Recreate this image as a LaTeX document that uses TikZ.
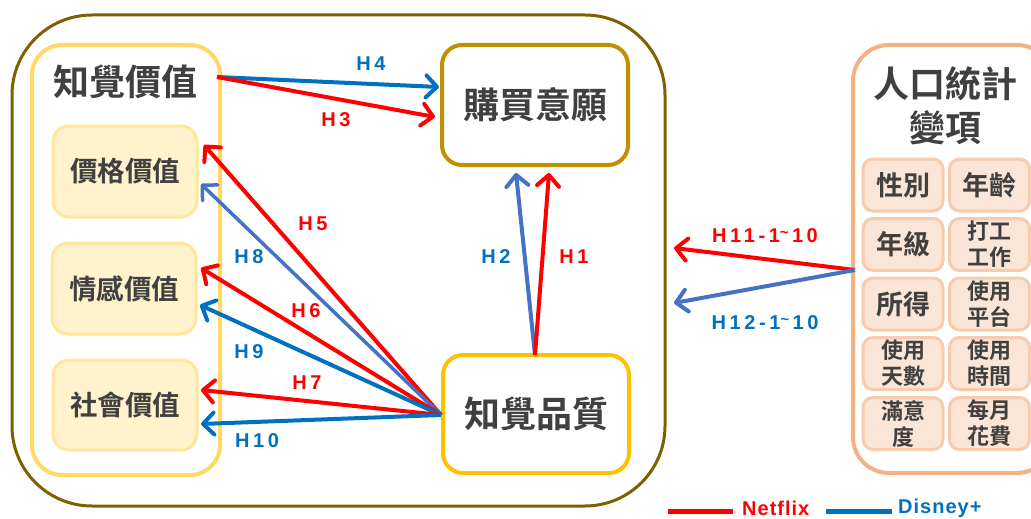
\documentclass[tikz,border=0pt]{standalone}
\usepackage{fontspec}
\usetikzlibrary{arrows.meta}
\newfontfamily\cjk{Noto Sans CJK TC Bold}
\newfontfamily\lab{Liberation Sans Bold}[LetterSpace=18]
\newfontfamily\labl{Liberation Sans Bold}[LetterSpace=5]
\definecolor{cBrown}{HTML}{7F6000}
\definecolor{cGold}{HTML}{BF9000}
\definecolor{cAmber}{HTML}{FFC000}
\definecolor{cYel}{HTML}{FFD966}
\definecolor{cYelL}{HTML}{FFE699}
\definecolor{cYelF}{HTML}{FFF2CC}
\definecolor{cOr}{HTML}{F4B183}
\definecolor{cOrL}{HTML}{F8CBAD}
\definecolor{cOrF}{HTML}{FBE5D6}
\definecolor{cTxt}{HTML}{404040}
\definecolor{cRed}{HTML}{FF0000}
\definecolor{cBlue}{HTML}{0070C0}
\definecolor{cBlueM}{HTML}{4472C4}
\tikzset{
  box/.style={rectangle, inner sep=0pt, text=cTxt},
  outerbox/.style={box, draw=cBrown, line width=3pt, rounded corners=80pt},
  pvbox/.style={box, draw=cYel, line width=4pt, rounded corners=30pt},
  subbox/.style={box, draw=cYelL, fill=cYelF, line width=3pt, rounded corners=16pt,
     minimum width=144pt, font=\cjk\fontsize{27.5}{30}\selectfont},
  bigbox/.style={box, line width=4pt, rounded corners=20pt, fill=white,
     minimum width=186pt, font=\cjk\fontsize{36}{40}\selectfont},
  demobox/.style={box, draw=cOr, line width=4pt, rounded corners=36pt},
  dsmall/.style={box, draw=cOrL, fill=cOrF, line width=3pt, rounded corners=10pt,
     minimum width=80pt, minimum height=52pt, align=center},
  one/.style={font=\cjk\fontsize{27}{30}\selectfont},
  two/.style={font=\cjk\fontsize{22}{26}\selectfont},
  title/.style={text=cTxt, font=\cjk\fontsize{36}{44}\selectfont, align=center, inner sep=0pt},
  arr/.style={line width=4pt, -{Straight Barb[round,length=11pt,width=22pt]}},
  hl/.style={font=\lab\fontsize{20}{22}\selectfont, inner sep=0pt},
  legtext/.style={font=\labl\fontsize{20}{22}\selectfont, inner sep=0pt, anchor=west},
}
\begin{document}
\begin{tikzpicture}[x=1pt,y=-1pt]
\useasboundingbox (0,0) rectangle (1031,519);
\begin{scope}
\clip (0,0) rectangle (1031,519);
% outer container
\node[outerbox, minimum width=653pt, minimum height=491pt] (outer) at (338.5,260.5) {};
% perceived value container
\node[pvbox, minimum width=188pt, minimum height=430pt] (pv) at (126,260) {};
\node[title] (pvt) at (125,82) {知覺價值};
\node[subbox, minimum height=91pt] (price) at (125,171.5) {價格價值};
\node[subbox, minimum height=91pt] (emo) at (124,288.5) {情感價值};
\node[subbox, minimum height=90pt] (soc) at (125,405) {社會價值};
% purchase intention and perceived quality
\node[bigbox, draw=cGold, minimum height=120pt] (pi) at (535,105) {購買意願};
\node[bigbox, draw=cAmber, minimum height=118pt] (pq) at (536,414) {知覺品質};
% demographics
\node[demobox, minimum width=200pt, minimum height=428pt] (demo) at (953,259) {};
\node[title] (demot) at (945,106) {人口統計\\變項};
\node[dsmall, one] (d1) at (903,185) {性別};
\node[dsmall, one] (d2) at (989.5,185) {年齡};
\node[dsmall, one] (d3) at (903,244.5) {年級};
\node[dsmall, two] (d4) at (989.5,244.5) {打工\\工作};
\node[dsmall, one] (d5) at (903,304) {所得};
\node[dsmall, two] (d6) at (989.5,304) {使用\\平台};
\node[dsmall, two] (d7) at (903,363.5) {使用\\天數};
\node[dsmall, two] (d8) at (989.5,363.5) {使用\\時間};
\node[dsmall, two] (d9) at (903,423.5) {滿意\\度};
\node[dsmall, two] (d10) at (989.5,423.5) {每月\\花費};
% connector points
\coordinate (s34) at (217,77);
\coordinate (t4) at (439,87);
\coordinate (t3) at (435,117);
\coordinate (sq) at (441,415);
\coordinate (t5) at (204,145);
\coordinate (t8) at (201,184);
\coordinate (t6) at (201,268);
\coordinate (t9) at (200,305);
\coordinate (t7) at (201,390);
\coordinate (t10) at (201,424);
\coordinate (s12) at (535,355);
\coordinate (t2) at (516,173);
\coordinate (t1) at (549,173);
\coordinate (sd) at (855,270);
\coordinate (t11) at (674,248);
\coordinate (t12) at (674,303);
% arrows
\draw[arr, cBlue] (s34) -- (t4);
\draw[arr, cRed] (s34) -- (t3);
\draw[arr, cRed] (sq) -- (t5);
\draw[arr, cBlueM, line width=3.5pt] (sq) -- (t8);
\draw[arr, cRed] (sq) -- (t6);
\draw[arr, cBlue] (sq) -- (t9);
\draw[arr, cRed] (sq) -- (t7);
\draw[arr, cBlue] (sq) -- (t10);
\draw[arr, cBlueM] (s12) -- (t2);
\draw[arr, cRed] (s12) -- (t1);
\draw[arr, cRed] (sd) -- (t11);
\draw[arr, cBlueM] (sd) -- (t12);
% labels
\node[hl, cBlue] (l4) at (371,64) {H4};
\node[hl, cRed] (l3) at (336,120) {H3};
\node[hl, cRed] (l5) at (313,224) {H5};
\node[hl, cBlue] (l8) at (249,257) {H8};
\node[hl, cRed] (l6) at (306,311) {H6};
\node[hl, cBlue] (l9) at (249,352) {H9};
\node[hl, cRed] (l7) at (307,383) {H7};
\node[hl, cBlue] (l10) at (257,441) {H10};
\node[hl, cBlue] (l2) at (496,257) {H2};
\node[hl, cRed] (l1) at (574,257) {H1};
\node[hl, cRed] (l11) at (765,236) {H11-1\raisebox{5pt}{\fontsize{15}{15}\selectfont\textasciitilde}\,10};
\node[hl, cBlue] (l12) at (765,323) {H12-1\raisebox{5pt}{\fontsize{15}{15}\selectfont\textasciitilde}\,10};
% legend
\coordinate (la) at (668,511);
\coordinate (lb) at (733,511);
\coordinate (lc) at (826,511);
\coordinate (ld) at (892,511);
\draw[cRed, line width=5pt] (la) -- (lb);
\draw[cBlue, line width=5pt] (lc) -- (ld);
\node[legtext, cRed] (ln) at (742,508) {Netflix};
\node[legtext, cBlue] (ldis) at (898,508) {Disney+};
\end{scope}
\end{tikzpicture}
\end{document}
